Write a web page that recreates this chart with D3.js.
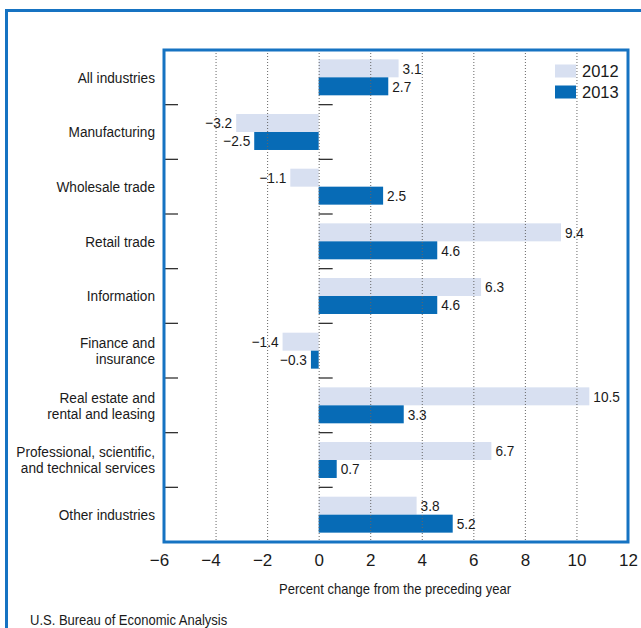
<!DOCTYPE html>
<html>
<head>
<meta charset="utf-8">
<script src="https://cdn.jsdelivr.net/npm/d3@7"></script>
<style>
html,body{margin:0;padding:0;background:#fff;}
svg{display:block;font-family:"Liberation Sans",Arial,Helvetica,sans-serif;}
</style>
</head>
<body>
<svg id="chart" width="641" height="628"></svg>
<script>
const categories = [
  "All industries",
  "Manufacturing",
  "Wholesale trade",
  "Retail trade",
  "Information",
  "Finance and|insurance",
  "Real estate and|rental and leasing",
  "Professional, scientific,|and technical services",
  "Other industries"
];
const series = ["2012", "2013"];
const values2012 = [3.1, -3.2, -1.1, 9.4, 6.3, -1.4, 10.5, 6.7, 3.8];
const values2013 = [2.7, -2.5, 2.5, 4.6, 4.6, -0.3, 3.3, 0.7, 5.2];
const xTicks = [-6, -4, -2, 0, 2, 4, 6, 8, 10, 12];
const xTitle = "Percent change from the preceding year";
const sourceText = "U.S. Bureau of Economic Analysis";

const colors = {"2012": "#d8e0f1", "2013": "#076bb6"};
const frameBlue = "#1673c2";
const SX = 0.91; // condensed look of the original typeface

const svg = d3.select("#chart");
const plot = {left: 164, right: 628, top: 50, bottom: 542};

const x = d3.scaleLinear().domain([-6, 12]).range([plot.left, plot.right]);
const y = d3.scaleBand().domain(categories).range([plot.top, plot.bottom]).padding(0);
const yInner = d3.scaleBand().domain(series).range([0, y.bandwidth()]).paddingInner(0).paddingOuter(0.52);

const fmt = v => (v < 0 ? "\u2212" : "") + Math.abs(v).toFixed(1);

function ctext(px, py, str, size, anchor) {
  return svg.append("text")
    .attr("transform", `translate(${px},${py}) scale(${SX},1)`)
    .attr("dy", "0.36em").attr("text-anchor", anchor)
    .attr("font-size", size).attr("fill", "#1a1a1a").text(str);
}

// outer frame
svg.append("rect").attr("x", 6.5).attr("y", 10.5).attr("width", 700).attr("height", 700)
  .attr("fill", "none").attr("stroke", frameBlue).attr("stroke-width", 3);

const data = categories.map((c, i) => ({cat: c, vals: [
  {s: "2012", v: values2012[i]}, {s: "2013", v: values2013[i]}
]}));

// bars
const g = svg.append("g");
data.forEach(d => {
  d.vals.forEach(b => {
    g.append("rect")
      .attr("x", x(Math.min(0, b.v)))
      .attr("y", y(d.cat) + yInner(b.s))
      .attr("width", Math.abs(x(b.v) - x(0)))
      .attr("height", yInner.bandwidth())
      .attr("fill", colors[b.s]);
  });
});

// dotted gridlines (over bars)
svg.append("g").selectAll("line").data(xTicks.filter(t => t > -6 && t < 12)).join("line")
  .attr("x1", d => x(d) + 0.5).attr("x2", d => x(d) + 0.5)
  .attr("y1", plot.top).attr("y2", plot.bottom)
  .attr("stroke", "#666").attr("stroke-width", 1).attr("stroke-dasharray", "1,2");

// value labels
data.forEach(d => {
  d.vals.forEach(b => {
    const yc = y(d.cat) + yInner(b.s) + yInner.bandwidth() / 2;
    ctext(b.v >= 0 ? x(b.v) + 4 : x(b.v) - 4, yc, fmt(b.v), 15, b.v >= 0 ? "start" : "end");
  });
});

// separator ticks
categories.slice(1).map(c => y(c)).forEach(by => {
  [plot.left, x(0)].forEach(x0 => {
    svg.append("line").attr("x1", x0).attr("x2", x0 + 14)
      .attr("y1", by).attr("y2", by)
      .attr("stroke", "#333").attr("stroke-width", 1.3);
  });
});

// plot frame
svg.append("rect").attr("x", plot.left).attr("y", plot.top)
  .attr("width", plot.right - plot.left).attr("height", plot.bottom - plot.top)
  .attr("fill", "none").attr("stroke", frameBlue).attr("stroke-width", 3);

// category labels
categories.forEach(c => {
  const lines = c.split("|");
  const yc = y(c) + y.bandwidth() / 2;
  const t = svg.append("text").attr("text-anchor", "end").attr("font-size", 15)
    .attr("transform", `translate(155,0) scale(${SX},1)`)
    .attr("fill", "#1a1a1a");
  lines.forEach((ln, i) => {
    t.append("tspan").attr("x", 0)
      .attr("y", yc + (i - (lines.length - 1) / 2) * 16)
      .attr("dy", "0.36em").text(ln);
  });
});

// x axis
const xAxis = d3.axisBottom(x).tickValues(xTicks).tickSize(0).tickPadding(0)
  .tickFormat(d => (d < 0 ? "\u2212" : "") + Math.abs(d));
const ax = svg.append("g").attr("transform", `translate(0,${plot.bottom})`).call(xAxis);
ax.select(".domain").remove();
ax.selectAll("text").attr("y", 18).attr("dy", "0.36em")
  .attr("dx", d => d < 0 ? -5 : 0)
  .attr("font-size", 17).attr("font-family", "Liberation Sans, Arial, sans-serif").attr("fill", "#1a1a1a");

ctext(395, 589, xTitle, 14.3, "middle");
ctext(30, 620, sourceText, 14.3, "start");

// legend
series.forEach((s, i) => {
  const ly = 71 + i * 21;
  svg.append("rect").attr("x", 555).attr("y", ly - 6.5).attr("width", 21).attr("height", 13)
    .attr("fill", colors[s]);
  svg.append("text").attr("x", 582).attr("y", ly).attr("dy", "0.36em")
    .attr("font-size", 16.5).attr("fill", "#1a1a1a").text(s);
});
</script>
</body>
</html>
